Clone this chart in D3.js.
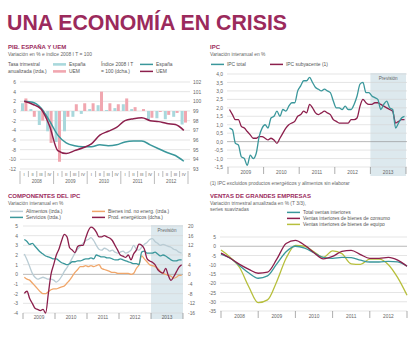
<!DOCTYPE html>
<html>
<head>
<meta charset="utf-8">
<script src="https://cdn.jsdelivr.net/npm/d3@7"></script>
<style>
  body { margin: 0; background: #fff; }
  svg { display: block; font-family: "Liberation Sans", Arial, sans-serif; }
  .ttl { font-size: 6px; font-weight: bold; fill: #9b2a5c; }
  .sub { font-size: 4.9px; fill: #666; }
  .lg { font-size: 4.9px; fill: #555; }
  .tick text { font-size: 4.9px; fill: #666; }
</style>
</head>
<body>
<svg id="chart" width="414" height="348"></svg>
<script>
// ---- PIB: quarterly annualised rate (bars, left) and index 2008 I T = 100 (lines, right)
const quarterLabels = ["I", "II", "III", "IV"];
const pibYears = ["2008", "2009", "2010", "2011", "2012"];
const pibTasaEsp = [1.6, 0.4, -2.9, -4.2, -6.4, -4.2, -1.2, -0.6, 0.4, 1.2, 0.2, 0.6, 1.4, 0.4, 0.0, -1.8, -1.5, -1.7, -1.2, -2.8];
const pibTasaUem = [2.6, -1.2, -2.0, -6.6, -10.5, -1.2, 1.4, 1.6, 1.6, 4.0, 1.6, 1.4, 2.6, 0.8, 0.4, -1.4, -0.2, -0.8, -0.4, -2.4];
const pibIndiceEsp = [100, 99.9, 99.3, 98.0, 96.5, 95.7, 95.4, 95.3, 95.3, 95.5, 95.4, 95.5, 95.8, 95.9, 95.9, 95.5, 95.1, 94.7, 94.4, 93.8];
const pibIndiceUem = [100, 99.7, 99.2, 97.5, 94.9, 94.6, 94.9, 95.2, 95.6, 96.5, 96.9, 97.3, 98.0, 98.2, 98.3, 98.0, 97.9, 97.7, 97.6, 97.0];

// ---- IPC: monthly year-on-year %, Jan 2009 - Dec 2013 (2013 = forecast)
const ipcYears = ["2009", "2010", "2011", "2012", "2013"];
const ipcTotal = [
  0.8, 0.7, -0.1, -0.2, -0.9, -1.0, -1.4, -0.8, -1.0, -0.7, 0.3, 0.8,
  1.0, 0.8, 1.4, 1.5, 1.8, 1.5, 1.9, 1.8, 2.1, 2.3, 2.3, 3.0,
  3.3, 3.6, 3.6, 3.8, 3.5, 3.2, 3.1, 3.0, 3.1, 3.0, 2.9, 2.4,
  2.0, 2.0, 1.9, 2.1, 1.9, 1.9, 2.2, 2.7, 3.4, 3.5, 2.9, 2.9,
  2.7, 2.6, 2.5, 1.9, 2.2, 2.4, 2.0, 1.9, 0.8, 1.1, 1.4, 1.5
];
const ipcSubyacente = [
  1.9, 1.6, 1.3, 1.3, 0.9, 0.8, 0.6, 0.4, 0.2, 0.2, 0.3, 0.3,
  0.2, 0.1, 0.2, 0.1, -0.1, 0.2, 0.5, 0.8, 1.0, 1.1, 1.2, 1.5,
  1.6, 1.8, 1.7, 2.2, 2.0, 1.7, 1.6, 1.7, 1.8, 1.7, 1.6, 1.3,
  1.2, 1.1, 1.1, 1.1, 1.1, 1.3, 1.3, 1.4, 2.1, 2.5, 2.3, 2.2,
  2.2, 2.3, 2.3, 2.2, 2.1, 2.0, 1.9, 1.8, 1.1, 1.2, 1.3, 1.3
];

// ---- Componentes del IPC: monthly, 2009 - 2013
const compAlimentos = [
  2.1, 1.5, 0.8, 0.1, -0.3, -0.5, -0.4, -0.3, -0.4, -0.5, -0.5, -0.6,
  -0.8, -0.6, -0.2, 0.3, 0.7, 1.2, 1.7, 2.2, 2.6, 2.9, 3.2, 3.5,
  3.6, 3.8, 3.5, 3.0, 2.6, 2.5, 2.7, 2.6, 2.4, 2.5, 2.3, 2.2,
  2.3, 2.4, 2.2, 2.3, 2.5, 3.0, 2.6, 2.5, 2.8, 3.1, 3.3, 3.6,
  3.7, 3.4, 3.2, 3.0, 3.1, 3.0, 2.9, 2.8, 2.6, 2.5, 2.3, 2.2
];
const compServicios = [
  3.6, 3.4, 3.1, 3.2, 2.9, 2.6, 2.3, 2.1, 1.9, 1.8, 1.7, 1.6,
  1.6, 1.4, 1.2, 1.1, 1.0, 1.1, 1.3, 1.3, 1.4, 1.4, 1.5, 1.6,
  1.6, 1.7, 1.6, 2.0, 1.9, 1.8, 1.8, 1.7, 1.7, 1.6, 1.5, 1.5,
  1.6, 1.5, 1.4, 1.3, 1.2, 1.1, 1.1, 1.0, 2.3, 2.4, 2.2, 2.2,
  2.2, 2.3, 2.1, 1.9, 2.0, 1.9, 1.7, 1.5, 1.4, 1.4, 1.5, 1.5
];
const compBienesInd = [
  -0.3, -0.5, -0.6, -0.9, -1.2, -1.5, -1.8, -2.0, -2.0, -1.8, -1.6, -1.5,
  -1.5, -1.4, -1.3, -1.2, -0.9, -0.6, -0.2, 0.2, 0.5, 0.8, 0.8, 0.9,
  0.8, 0.9, 0.8, 0.9, 1.0, 0.6, 0.5, 0.4, 0.3, 0.2, 0.2, 0.1,
  0.1, 0.1, 0.1, 0.1, 0.0, 0.1, 0.6, 1.0, 1.9, 1.6, 1.3, 1.0,
  0.9, 0.8, 0.6, 0.3, 0.1, 0.0, -0.1, -0.2, -0.4, -0.3, -0.1, -0.1
];
const compEnergeticos = [
  -7.9, -7.0, -10.0, -12.0, -14.0, -14.5, -15.0, -14.5, -16.0, -8.0, 0.0, 4.0,
  8.0, 10.5, 14.0, 16.5, 15.5, 11.0, 10.0, 9.0, 11.5, 12.0, 12.0, 15.0,
  18.0, 19.5, 19.0, 17.5, 15.5, 15.5, 16.0, 15.5, 15.0, 14.0, 12.0, 10.0,
  8.0, 7.5, 7.0, 8.0, 6.0, 8.5, 10.0, 12.5, 12.0, 10.5, 6.5, 5.5,
  5.0, 4.0, 2.0, 1.0, 0.5, 2.5, -0.5, -2.5, -1.0, 1.0, 3.0, 4.0
];

// ---- Ventas de grandes empresas: quarterly, 2008 I T - 2013 I T
const ventasYears = ["2008", "2009", "2010", "2011", "2012"];
const ventasTotal = [-4.2, -6.5, -10.5, -14.5, -17.3, -16.0, -9.5, -3.0, 0.0, -1.0, -3.5, -6.0, -6.5, -6.0, -6.2, -7.5, -8.5, -8.5, -8.2, -8.5, -10.8];
const ventasConsumo = [-3.7, -6.5, -9.8, -12.5, -14.6, -14.0, -7.0, 1.5, 3.2, 0.5, -3.5, -6.8, -5.5, -2.8, -2.2, -4.5, -6.5, -6.5, -6.0, -7.5, -10.8];
const ventasEquipo = [-2.0, -6.0, -11.5, -22.0, -30.5, -29.0, -19.0, -6.5, 0.5, 0.0, -3.0, -6.0, -2.5, -4.0, -9.5, -9.8, -7.0, -7.0, -10.0, -17.0, -26.5];

const C = {
  magenta: "#9b2a5c", text: "#666", grid: "#d4d4d4", zero: "#8a8a8a",
  teal: "#3a979b", tealLight: "#a9d8dc", pink: "#f1a7b0", wine: "#8c1f4c",
  orange: "#f0a66a", food: "#b9ccd4", olive: "#b7bf3c", shade: "#dde9ee", tick: "#777"
};

const es = d3.formatLocale({ decimal: ",", thousands: ".", grouping: [3], currency: ["", " €"], minus: "-" });
const fmt1 = es.format(".1f"), fmt0 = es.format("d");

const svg = d3.select("#chart");
svg.append("rect").attr("width", 414).attr("height", 348).attr("fill", "#fff");

svg.append("text").attr("x", 7).attr("y", 30)
  .attr("font-size", 21.3).attr("font-weight", "bold").attr("fill", C.magenta)
  .text("UNA ECONOMÍA EN CRISIS");

function heading(x, y, title, subs) {
  svg.append("text").attr("class", "ttl").attr("x", x).attr("y", y).text(title);
  subs.forEach((s, i) => svg.append("text").attr("class", "sub").attr("x", x).attr("y", y + 6.5 + i * 6).text(s));
}

function legendItem(x, y, color, label, thick) {
  svg.append("line").attr("x1", x).attr("x2", x + 13).attr("y1", y - 1.6).attr("y2", y - 1.6)
    .attr("stroke", color).attr("stroke-width", thick || 1.5);
  svg.append("text").attr("class", "lg").attr("x", x + 16).attr("y", y).text(label);
}

function grid(g, scale, values, x0, x1, zero) {
  g.selectAll(null).data(values).join("line")
    .attr("x1", x0).attr("x2", x1)
    .attr("y1", d => scale(d)).attr("y2", d => scale(d))
    .attr("stroke", d => (zero !== undefined && Math.abs(d - zero) < 1e-9) ? C.zero : C.grid)
    .attr("stroke-width", 0.6);
}

function clean(g) { g.select(".domain").remove(); }

function yearAxis(g, xs, labels, y, tickLen, labelY) {
  g.selectAll(null).data(xs).join("line")
    .attr("x1", d => d).attr("x2", d => d).attr("y1", y).attr("y2", y + tickLen)
    .attr("stroke", C.tick).attr("stroke-width", 0.6);
  g.selectAll(null).data(labels).join("text")
    .attr("x", (d, i) => (xs[i] + xs[i + 1]) / 2).attr("y", labelY)
    .attr("text-anchor", "middle").attr("font-size", 4.8).attr("fill", C.text).text(d => d);
}

// ================= PIB. ESPAÑA Y UEM =================
(function () {
  heading(8, 49, "PIB. ESPAÑA Y UEM", ["Variación en % e índice 2008 I T = 100"]);
  svg.append("text").attr("class", "lg").attr("x", 8).attr("y", 66).text("Tasa trimestral");
  svg.append("text").attr("class", "lg").attr("x", 8).attr("y", 73).text("anualizada (izda.)");
  legendItem(53, 66, C.tealLight, "España", 2.6);
  legendItem(53, 73, C.pink, "UEM", 2.6);
  svg.append("text").attr("class", "lg").attr("x", 101).attr("y", 66).text("Índice 2008 I T");
  svg.append("text").attr("class", "lg").attr("x", 101).attr("y", 73).text("= 100 (dcha.)");
  legendItem(140, 66, C.teal, "España", 1.5);
  legendItem(140, 73, C.wine, "UEM", 1.5);

  const x0 = 20, x1 = 188, yTop = 82, yBot = 169;
  const g = svg.append("g");
  const xq = d3.scaleBand().domain(d3.range(pibTasaEsp.length)).range([x0, x1]);
  const yTasa = d3.scaleLinear().domain([-12, 6]).range([yBot, yTop]);
  const yIdx = d3.scaleLinear().domain([93, 102]).range([yBot, yTop]);

  grid(g, yTasa, d3.range(-12, 7, 2), x0, x1 + 2);

  g.append("g").attr("transform", `translate(${x0 - 1},0)`)
    .call(d3.axisLeft(yTasa).tickValues(d3.range(-12, 7, 2)).tickSize(0).tickPadding(3).tickFormat(fmt0))
    .call(clean);
  g.append("g").attr("transform", `translate(${x1 + 2},0)`)
    .call(d3.axisRight(yIdx).tickValues(d3.range(93, 103)).tickSize(0).tickPadding(3).tickFormat(fmt0))
    .call(clean);

  const bw = 3;
  const mid = i => xq(i) + xq.bandwidth() / 2;
  g.selectAll(".bEsp").data(pibTasaEsp).join("rect")
    .attr("x", (d, i) => mid(i) - bw - 0.2).attr("width", bw)
    .attr("y", d => yTasa(Math.max(0, d))).attr("height", d => Math.abs(yTasa(d) - yTasa(0)))
    .attr("fill", C.tealLight);
  g.selectAll(".bUem").data(pibTasaUem).join("rect")
    .attr("x", (d, i) => mid(i) + 0.2).attr("width", bw)
    .attr("y", d => yTasa(Math.max(0, d))).attr("height", d => Math.abs(yTasa(d) - yTasa(0)))
    .attr("fill", C.pink);

  const line = d3.line().x((d, i) => mid(i)).y(d => yIdx(d)).curve(d3.curveMonotoneX);
  g.append("path").attr("d", line(pibIndiceEsp)).attr("fill", "none").attr("stroke", C.teal).attr("stroke-width", 1.5);
  g.append("path").attr("d", line(pibIndiceUem)).attr("fill", "none").attr("stroke", C.wine).attr("stroke-width", 1.5);

  // quarter / year axis
  const qs = d3.range(pibTasaEsp.length);
  g.selectAll(".qt").data(qs).join("line")
    .attr("x1", d => xq(d)).attr("x2", d => xq(d))
    .attr("y1", 171).attr("y2", d => d % 4 === 0 ? 184 : 177)
    .attr("stroke", C.tick).attr("stroke-width", 0.5);
  g.append("line").attr("x1", x1).attr("x2", x1).attr("y1", 171).attr("y2", 184).attr("stroke", C.tick).attr("stroke-width", 0.5);
  g.selectAll(".ql").data(qs).join("text")
    .attr("x", d => mid(d)).attr("y", 176).attr("text-anchor", "middle")
    .attr("font-size", 4.2).attr("fill", C.text).text(d => quarterLabels[d % 4]);
  g.selectAll(".yl").data(pibYears).join("text")
    .attr("x", (d, i) => (xq(i * 4) + xq(i * 4 + 3) + xq.bandwidth()) / 2).attr("y", 182.8)
    .attr("text-anchor", "middle").attr("font-size", 4.6).attr("fill", C.text).text(d => d);
})();

// ================= IPC =================
(function () {
  heading(210, 49, "IPC", ["Variación interanual en %"]);
  legendItem(211, 66, C.teal, "IPC total");
  legendItem(270, 66, C.wine, "IPC subyacente (1)");

  const x0 = 228, x1 = 406, yTop = 74, yBot = 167;
  const g = svg.append("g");
  const xm = d3.scaleLinear().domain([0, ipcTotal.length]).range([x0, x1]);
  const y = d3.scaleLinear().domain([-1.5, 4]).range([yBot, yTop]);
  const ticks = d3.range(12).map(i => -1.5 + i * 0.5);

  g.append("rect").attr("x", xm(48)).attr("y", yTop - 1).attr("width", xm(60) - xm(48)).attr("height", 177 - yTop)
    .attr("fill", C.shade);
  g.append("text").attr("x", (xm(48) + xm(60)) / 2).attr("y", 80).attr("text-anchor", "middle")
    .attr("font-size", 4.6).attr("fill", C.text).text("Previsión");

  grid(g, y, ticks, x0 - 1, x1 + 1, 0);
  g.append("g").attr("transform", `translate(${x0 - 1},0)`)
    .call(d3.axisLeft(y).tickValues(ticks).tickSize(0).tickPadding(4).tickFormat(fmt1))
    .call(clean);

  const line = d3.line().x((d, i) => xm(i + 0.5)).y(d => y(d)).curve(d3.curveMonotoneX);
  g.append("path").attr("d", line(ipcSubyacente)).attr("fill", "none").attr("stroke", C.wine).attr("stroke-width", 1.3);
  g.append("path").attr("d", line(ipcTotal)).attr("fill", "none").attr("stroke", C.teal).attr("stroke-width", 1.3);

  yearAxis(g, d3.range(0, 61, 12).map(xm), ipcYears, yBot, 7, 173.8);

  svg.append("text").attr("class", "sub").attr("x", 210).attr("y", 184.5)
    .text("(1) IPC excluidos productos energéticos y alimentos sin elaborar");
})();

// ================= COMPONENTES DEL IPC =================
(function () {
  heading(8, 198, "COMPONENTES DEL IPC", ["Variación interanual en %"]);
  legendItem(10, 213, C.food, "Alimentos (izda.)");
  legendItem(10, 219, C.teal, "Servicios (izda.)");
  legendItem(92, 213, C.orange, "Bienes ind. no energ. (izda.)");
  legendItem(92, 219, C.wine, "Prod. energéticos (dcha.)");

  const x0 = 23, x1 = 183, yTop = 226, yBot = 313;
  const g = svg.append("g");
  const xm = d3.scaleLinear().domain([0, compServicios.length]).range([x0, x1]);
  const yL = d3.scaleLinear().domain([-4, 5]).range([yBot, yTop]);
  const yR = d3.scaleLinear().domain([-16, 20]).range([yBot, yTop]);

  g.append("rect").attr("x", xm(48)).attr("y", yTop - 1).attr("width", xm(60) - xm(48)).attr("height", 320 - yTop)
    .attr("fill", C.shade);
  g.append("text").attr("x", (xm(48) + xm(60)) / 2).attr("y", 231.5).attr("text-anchor", "middle")
    .attr("font-size", 4.6).attr("fill", C.text).text("Previsión");

  grid(g, yL, d3.range(-4, 6), x0, x1, 0);
  g.append("g").attr("transform", `translate(${x0 - 1},0)`)
    .call(d3.axisLeft(yL).tickValues(d3.range(-4, 6)).tickSize(0).tickPadding(4).tickFormat(fmt0))
    .call(clean);
  g.append("g").attr("transform", `translate(${x1 + 1},0)`)
    .call(d3.axisRight(yR).tickValues(d3.range(-16, 21, 4)).tickSize(0).tickPadding(4).tickFormat(fmt0))
    .call(clean);

  const lineL = d3.line().x((d, i) => xm(i + 0.5)).y(d => yL(d)).curve(d3.curveMonotoneX);
  const lineR = d3.line().x((d, i) => xm(i + 0.5)).y(d => yR(d)).curve(d3.curveMonotoneX);
  g.append("path").attr("d", lineL(compAlimentos)).attr("fill", "none").attr("stroke", C.food).attr("stroke-width", 1.3);
  g.append("path").attr("d", lineL(compBienesInd)).attr("fill", "none").attr("stroke", C.orange).attr("stroke-width", 1.3);
  g.append("path").attr("d", lineL(compServicios)).attr("fill", "none").attr("stroke", C.teal).attr("stroke-width", 1.3);
  g.append("path").attr("d", lineR(compEnergeticos)).attr("fill", "none").attr("stroke", C.wine).attr("stroke-width", 1.3);

  yearAxis(g, d3.range(0, 61, 12).map(xm), ipcYears, yBot, 6, 318.8);
})();

// ================= VENTAS DE GRANDES EMPRESAS =================
(function () {
  heading(210, 198, "VENTAS DE GRANDES EMPRESAS",
    ["Variación trimestral anualizada en % (T 3/3),", "series suavizadas"]);
  legendItem(287, 214, C.teal, "Total ventas interiores");
  legendItem(287, 220, C.wine, "Ventas interiores de bienes de consumo");
  legendItem(287, 226, C.olive, "Ventas interiores de bienes de equipo");

  const x0 = 221, x1 = 407, yTop = 237, yBot = 311;
  const g = svg.append("g");
  const xq = d3.scaleLinear().domain([0, 20]).range([x0, x1]);
  const y = d3.scaleLinear().domain([-35, 5]).range([yBot, yTop]);
  const ticks = d3.range(-35, 6, 5);

  grid(g, y, ticks, x0 - 1, x1, 0);
  g.append("g").attr("transform", `translate(${x0 - 1},0)`)
    .call(d3.axisLeft(y).tickValues(ticks).tickSize(0).tickPadding(4).tickFormat(fmt0))
    .call(clean);

  const line = d3.line().x((d, i) => xq(i)).y(d => y(d)).curve(d3.curveMonotoneX);
  g.append("path").attr("d", line(ventasEquipo)).attr("fill", "none").attr("stroke", C.olive).attr("stroke-width", 1.3);
  g.append("path").attr("d", line(ventasTotal)).attr("fill", "none").attr("stroke", C.teal).attr("stroke-width", 1.3);
  g.append("path").attr("d", line(ventasConsumo)).attr("fill", "none").attr("stroke", C.wine).attr("stroke-width", 1.3);

  yearAxis(g, d3.range(0, 21, 4).map(xq), ventasYears, yBot, 7, 317.8);
})();
</script>
</body>
</html>
